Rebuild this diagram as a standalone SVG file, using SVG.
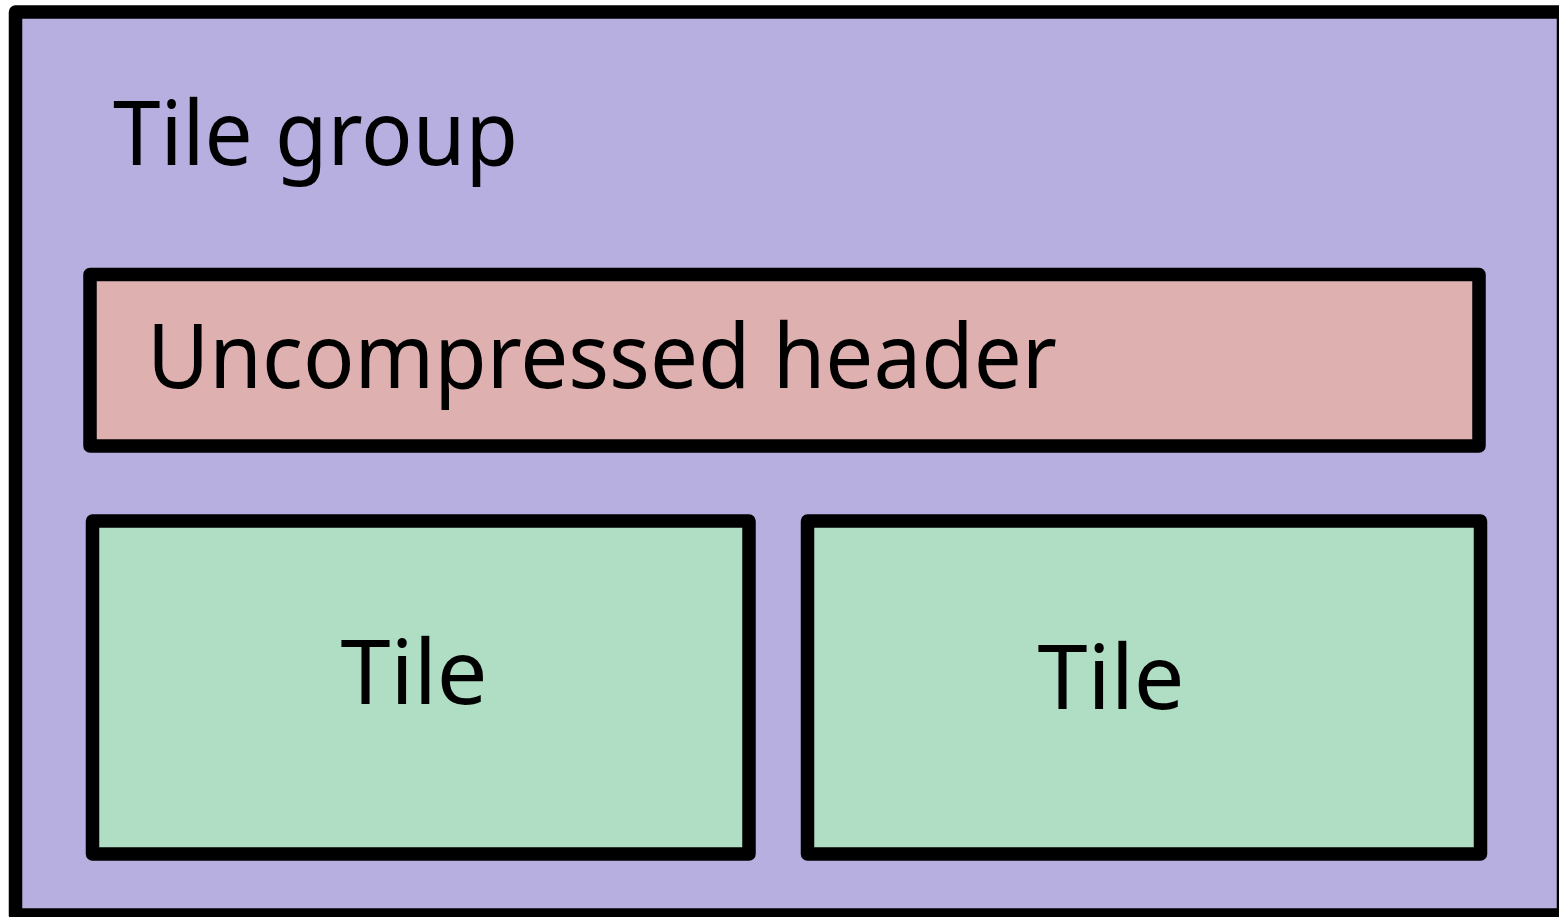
<svg xmlns="http://www.w3.org/2000/svg" width="1559" height="917" viewBox="0 0 1559 917">
<style>
.box{stroke:#000;stroke-width:13.5;stroke-linejoin:round}
.grp{fill:#b6afe0}
.hdr{fill:#dfb0b0}
.tile{fill:#b0dec4}
.t{font-family:"Noto Sans","Open Sans",sans-serif;font-size:90px;fill:#000}
</style>
<g id="tile-group">
<rect class="box grp" x="15.5" y="12" width="1548" height="903"/>
<text class="t" x="113" y="165" textLength="405" lengthAdjust="spacingAndGlyphs">Tile group</text>
</g>
<g id="uncompressed-header">
<rect class="box hdr" x="90" y="274.5" width="1389" height="171.5"/>
<text class="t" x="147" y="388" textLength="910" lengthAdjust="spacingAndGlyphs">Uncompressed header</text>
</g>
<g id="tile-1">
<rect class="box tile" x="92.5" y="521" width="656.5" height="333"/>
<text class="t" x="414" y="704" text-anchor="middle">Tile</text>
</g>
<g id="tile-2">
<rect class="box tile" x="807.5" y="521" width="673" height="333"/>
<text class="t" x="1111" y="709" text-anchor="middle">Tile</text>
</g>
<g id="connectors"/>
</svg>
